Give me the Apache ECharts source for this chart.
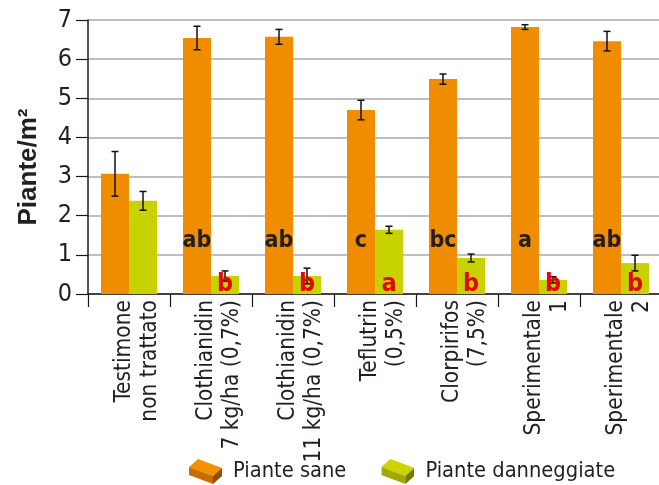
<!DOCTYPE html>
<html>
<head>
<meta charset="utf-8">
<script src="https://cdn.jsdelivr.net/npm/echarts@6/dist/echarts.min.js"></script>
<style>
  html, body { margin: 0; padding: 0; background: #ffffff; }
  #chart { width: 659px; height: 485px; }
</style>
</head>
<body>
<div id="chart"></div>
<script>
// Plants per m² for each seed treatment
const categories = [
  'Testimone\nnon trattato',
  'Clothianidin\n7 kg/ha (0,7%)',
  'Clothianidin\n11 kg/ha (0,7%)',
  'Teflutrin\n(0,5%)',
  'Clorpirifos\n(7,5%)',
  'Sperimentale\n1',
  'Sperimentale\n2'
];
const healthy = [3.07, 6.54, 6.57, 4.70, 5.49, 6.82, 6.46];
const healthyErr = [0.57, 0.30, 0.19, 0.25, 0.13, 0.06, 0.25];
const damaged = [2.38, 0.46, 0.46, 1.64, 0.92, 0.36, 0.79];
const damagedErr = [0.24, 0.13, 0.20, 0.09, 0.10, 0.08, 0.20];
// statistical grouping letters
const healthyGroups = ['', 'ab', 'ab', 'c', 'bc', 'a', 'ab'];
const damagedGroups = ['', 'b', 'b', 'a', 'b', 'b', 'b'];
const yTicks = [0, 1, 2, 3, 4, 5, 6, 7];

const seriesNames = ['Piante sane', 'Piante danneggiate'];
const ORANGE = '#f08c00';
const GREEN = '#c8d200';
const BAR_W = 28;
const NARROW = "'DejaVu Sans Condensed', 'Liberation Sans Narrow', sans-serif";

function brickIcon(top, front, side) {
  const svg = '<svg xmlns="http://www.w3.org/2000/svg" width="33" height="26" viewBox="0 0 33 26">' +
    '<polygon points="0,9 9,1 33,10 24,18" fill="' + top + '"/>' +
    '<polygon points="0,9 24,18 24,26 0,17" fill="' + front + '"/>' +
    '<polygon points="24,18 33,10 33,18 24,26" fill="' + side + '"/>' +
    '</svg>';
  return 'image://data:image/svg+xml;charset=utf-8,' + encodeURIComponent(svg);
}

const chart = echarts.init(document.getElementById('chart'), null, { renderer: 'canvas' });

function errorBars(values, errs, dx) {
  return function (params, api) {
    const i = api.value(0);
    const hi = api.coord([i, values[i] + errs[i]]);
    const lo = api.coord([i, values[i] - errs[i]]);
    const x = hi[0] + dx;
    const cap = 3.5;
    const style = { stroke: '#111111', lineWidth: 1.5 };
    return {
      type: 'group',
      children: [
        { type: 'line', shape: { x1: x, y1: hi[1], x2: x, y2: lo[1] }, style: style },
        { type: 'line', shape: { x1: x - cap, y1: hi[1], x2: x + cap, y2: hi[1] }, style: style },
        { type: 'line', shape: { x1: x - cap, y1: lo[1], x2: x + cap, y2: lo[1] }, style: style }
      ]
    };
  };
}

function groupLetters(params, api) {
  const i = api.value(0);
  const base = api.coord([i, 0]);
  return {
    type: 'group',
    children: [
      {
        type: 'text',
        x: base[0] - BAR_W / 2, y: base[1] - 53,
        style: { text: healthyGroups[i], fill: '#231f20', font: 'bold 23px ' + NARROW, align: 'center', verticalAlign: 'middle' }
      },
      {
        type: 'text',
        x: base[0] + BAR_W / 2, y: base[1] - 10,
        style: { text: damagedGroups[i], fill: '#e30613', font: 'bold 25px ' + NARROW, align: 'center', verticalAlign: 'middle' }
      }
    ]
  };
}

// two-line category label, preceded by a short spacer line
function categoryLabel(value) {
  return '{sp| }\n' + value.split('\n').map(line => '{t|' + line + '}').join('\n');
}

const idx = categories.map((c, i) => [i]);

chart.setOption({
  animation: false,
  backgroundColor: '#ffffff',
  grid: { left: 88, top: 20, width: 574, height: 274, containLabel: false, outerBoundsMode: 'none' },
  legend: {
    left: 189, top: 458, padding: 0,
    itemWidth: 33, itemHeight: 26, itemGap: 35,
    textStyle: { fontFamily: NARROW, fontSize: 21.7, color: '#231f20', padding: [0, 0, 0, 6] },
    data: [
      { name: seriesNames[0], icon: brickIcon('#f39200', '#c86e00', '#8f4f05') },
      { name: seriesNames[1], icon: brickIcon('#cbd300', '#a2a800', '#727800') }
    ]
  },
  xAxis: {
    type: 'category',
    data: categories,
    axisLine: { lineStyle: { color: '#1a1a1a', width: 1.5 } },
    axisTick: { show: true, length: 13, lineStyle: { color: '#1a1a1a', width: 1.2 } },
    axisLabel: {
      interval: 0, rotate: 90, margin: 6,
      formatter: categoryLabel,
      rich: {
        sp: { fontSize: 8, lineHeight: 16, height: 16 },
        t: { fontFamily: NARROW, fontSize: 22.5, lineHeight: 26, color: '#231f20' }
      }
    }
  },
  yAxis: {
    type: 'value', min: 0, max: 7, interval: 1,
    name: 'Piante/m²', nameLocation: 'middle', nameGap: 46,
    nameTextStyle: { fontFamily: "'Liberation Sans', Arial, sans-serif", fontWeight: 'bold', fontSize: 26, color: '#231f20', padding: [0, 20, 0, 0] },
    axisLine: { show: true, lineStyle: { color: '#1a1a1a', width: 1.5 } },
    axisTick: { show: true, length: 12, lineStyle: { color: '#1a1a1a', width: 1.2 } },
    axisLabel: {
      margin: 16, fontFamily: NARROW, fontSize: 25, color: '#231f20', padding: [4, 0, 0, 0],
      formatter: v => (yTicks.indexOf(v) >= 0 ? String(v) : '')
    },
    splitLine: { lineStyle: { color: '#a8a8a8', width: 1.5 } }
  },
  series: [
    { name: seriesNames[0], type: 'bar', data: healthy, barWidth: BAR_W, barGap: '0%', itemStyle: { color: ORANGE }, z: 2 },
    { name: seriesNames[1], type: 'bar', data: damaged, barWidth: BAR_W, barGap: '0%', itemStyle: { color: GREEN }, z: 2 },
    { type: 'custom', data: idx, renderItem: errorBars(healthy, healthyErr, -BAR_W / 2), z: 3, silent: true },
    { type: 'custom', data: idx, renderItem: errorBars(damaged, damagedErr, BAR_W / 2), z: 3, silent: true },
    { type: 'custom', data: idx, renderItem: groupLetters, z: 4, silent: true }
  ]
});
</script>
</body>
</html>
